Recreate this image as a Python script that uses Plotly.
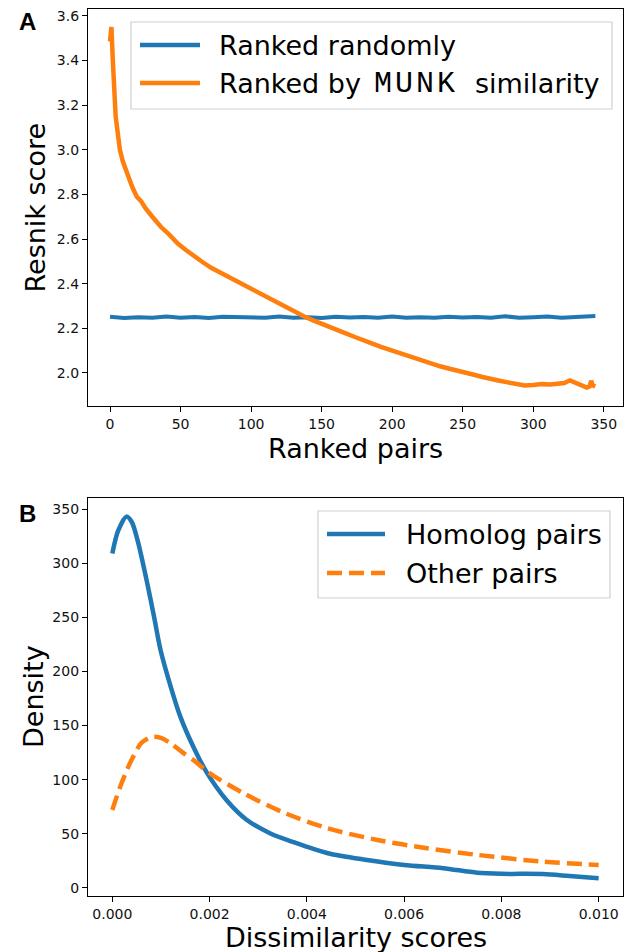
import plotly.graph_objects as go

# ---------------- Data ----------------
# Panel A
munk_rank = [0, 1, 2, 3, 4, 5, 7, 9, 11, 13, 16, 19, 22, 25, 30, 36, 42, 48, 54, 60,
             66, 72, 78, 84, 90, 96, 102, 108, 114, 120, 126, 132, 138, 144, 150, 156,
             162, 168, 174, 180, 186, 192, 198, 204, 210, 216, 222, 228, 234, 240, 246,
             252, 258, 264, 270, 276, 282, 288, 294, 300, 306, 312, 318, 322, 326, 330,
             334, 338, 340, 341, 342, 344]
munk_score = [3.485, 3.55, 3.40, 3.25, 3.15, 3.10, 3.00, 2.95, 2.91, 2.88, 2.83, 2.79,
              2.77, 2.74, 2.70, 2.655, 2.62, 2.58, 2.55, 2.52, 2.495, 2.47, 2.45, 2.43,
              2.41, 2.39, 2.37, 2.35, 2.335, 2.31, 2.29, 2.27, 2.252, 2.236, 2.222, 2.206,
              2.19, 2.175, 2.16, 2.148, 2.132, 2.117, 2.104, 2.09, 2.078, 2.066, 2.052,
              2.04, 2.03, 2.02, 2.012, 2.002, 1.992, 1.982, 1.972, 1.965, 1.958, 1.95,
              1.944, 1.946, 1.95, 1.948, 1.95, 1.955, 1.967, 1.958, 1.945, 1.935, 1.94,
              1.965, 1.945, 1.94]

random_rank = [0, 10, 20, 30, 40, 50, 60, 70, 80, 90, 100, 110, 120, 130, 140, 150, 160,
               170, 180, 190, 200, 210, 220, 230, 240, 250, 260, 270, 280, 290, 300, 310,
               320, 330, 340, 344]
random_score = [2.252, 2.246, 2.250, 2.247, 2.253, 2.248, 2.251, 2.246, 2.252, 2.249,
                2.250, 2.247, 2.253, 2.248, 2.250, 2.246, 2.252, 2.249, 2.251, 2.247,
                2.253, 2.248, 2.250, 2.247, 2.252, 2.249, 2.251, 2.248, 2.254, 2.247,
                2.250, 2.253, 2.248, 2.250, 2.252, 2.255]

# Panel B
homolog_x = [0.0, 0.00012, 0.00029, 0.00040, 0.00052, 0.00072, 0.00086, 0.00099, 0.0012,
             0.0014, 0.00167, 0.00195, 0.00235, 0.00276, 0.00324, 0.00371, 0.00443,
             0.0052, 0.0060, 0.0068, 0.0075, 0.0080, 0.00885, 0.0094, 0.0100]
homolog_y = [309, 330, 343, 338, 321, 281, 250, 220, 186, 158, 130, 106, 81, 63, 50.5,
             42.5, 32, 26, 21.2, 18.2, 14, 13, 12.8, 11, 9]

other_x = [0.0, 0.00015, 0.0003, 0.00045, 0.00059, 0.00075, 0.00086, 0.001, 0.0012,
           0.00145, 0.00167, 0.002, 0.0027, 0.0035, 0.00443, 0.00545, 0.00647, 0.0075,
           0.00885, 0.0100]
other_y = [72, 92, 109, 123, 133.6, 138.5, 139.7, 138.5, 133.6, 125, 118, 106, 87.4,
           70, 55, 44.3, 36.6, 30.5, 24.2, 21.2]

legend_a = ["Ranked randomly", ["Ranked by", "MUNK", "similarity"]]
legend_b = ["Homolog pairs", "Other pairs"]

BLUE = "#1f77b4"
ORANGE = "#ff7f0e"
W, H = 632, 952
L, R, T, B = 88, 623, 9, 896  # plot area in pixels


def px(x):
    return (x - L) / (R - L)


def py(y):
    return (B - y) / (B - T)


fig = go.Figure()
fig.add_trace(go.Scatter(x=random_rank, y=random_score, mode="lines",
                         line=dict(color=BLUE, width=4), xaxis="x", yaxis="y",
                         showlegend=False))
fig.add_trace(go.Scatter(x=munk_rank, y=munk_score, mode="lines",
                         line=dict(color=ORANGE, width=4.5), xaxis="x", yaxis="y",
                         showlegend=False))
fig.add_trace(go.Scatter(x=homolog_x, y=homolog_y, mode="lines",
                         line=dict(color=BLUE, width=4.5, shape="spline", smoothing=0.8),
                         xaxis="x2", yaxis="y2", showlegend=False))
fig.add_trace(go.Scatter(x=other_x, y=other_y, mode="lines",
                         line=dict(color=ORANGE, width=4.5, dash="15px,7px",
                                   shape="spline", smoothing=0.8),
                         xaxis="x2", yaxis="y2", showlegend=False))

axis_common = dict(showline=True, mirror=True, linecolor="black", linewidth=1.3,
                   ticks="outside", ticklen=5, tickwidth=1.2, tickcolor="black",
                   showgrid=False, zeroline=False,
                   tickfont=dict(family="DejaVu Sans", size=14, color="#111"))

fig.update_layout(
    width=W, height=H,
    margin=dict(l=L, r=W - R, t=T, b=H - B, pad=0),
    plot_bgcolor="white", paper_bgcolor="white",
    xaxis=dict(domain=[0, 1], anchor="y", range=[-15.6, 363.6],
               tickvals=[0, 50, 100, 150, 200, 250, 300, 350], **axis_common),
    yaxis=dict(domain=[py(406), 1], anchor="x", range=[1.852, 3.631],
               tickvals=[2.0, 2.2, 2.4, 2.6, 2.8, 3.0, 3.2, 3.4, 3.6],
               tickformat=".1f", **axis_common),
    xaxis2=dict(domain=[0, 1], anchor="y2", range=[-0.0005, 0.0105],
                tickvals=[0, 0.002, 0.004, 0.006, 0.008, 0.010],
                tickformat=".3f", **axis_common),
    yaxis2=dict(domain=[0, py(498)], anchor="x2", range=[-7.5, 360.2],
                tickvals=[0, 50, 100, 150, 200, 250, 300, 350], **axis_common),
)

title_font = dict(family="DejaVu Sans", size=27, color="black")
ann = []
ann.append(dict(text="Ranked pairs", x=0.5, y=py(448), xref="paper", yref="paper",
                showarrow=False, font=title_font, xanchor="center", yanchor="middle"))
ann.append(dict(text="Resnik score", x=px(35), y=py(207.5), xref="paper", yref="paper",
                showarrow=False, font=title_font, textangle=-90,
                xanchor="center", yanchor="middle"))
ann.append(dict(text="Dissimilarity scores", x=0.5, y=py(937), xref="paper", yref="paper",
                showarrow=False, font=title_font, xanchor="center", yanchor="middle"))
ann.append(dict(text="Density", x=px(33), y=py(697), xref="paper", yref="paper",
                showarrow=False, font=title_font, textangle=-90,
                xanchor="center", yanchor="middle"))
letter_font = dict(family="Liberation Sans", size=24, color="black")
ann.append(dict(text="<b>A</b>", x=px(27), y=py(21), xref="paper", yref="paper",
                showarrow=False, font=letter_font, xanchor="center", yanchor="middle"))
ann.append(dict(text="<b>B</b>", x=px(27), y=py(513), xref="paper", yref="paper",
                showarrow=False, font=letter_font, xanchor="center", yanchor="middle"))

leg_font = dict(family="DejaVu Sans", size=27, color="black")
mono_font = dict(family="Liberation Mono", size=30, color="black")
shapes = []
# Legend A
shapes.append(dict(type="rect", xref="paper", yref="paper", x0=px(131), x1=px(612),
                   y0=py(109), y1=py(22), line=dict(color="#d0d0d0", width=1.2),
                   fillcolor="rgba(255,255,255,0.85)", layer="above"))
for i, col in enumerate([BLUE, ORANGE]):
    yy = 45 + i * 38
    shapes.append(dict(type="line", xref="paper", yref="paper", x0=px(140), x1=px(200),
                       y0=py(yy), y1=py(yy), line=dict(color=col, width=4.5), layer="above"))
ann.append(dict(text=legend_a[0], x=px(217), y=py(45), xref="paper", yref="paper",
                showarrow=False, font=leg_font, xanchor="left", yanchor="middle"))
ann.append(dict(text=legend_a[1][0], x=px(217), y=py(83), xref="paper", yref="paper",
                showarrow=False, font=leg_font, xanchor="left", yanchor="middle"))
ann.append(dict(text="<span style=\"letter-spacing:3px\">" + legend_a[1][1] + "</span>",
                x=px(416), y=py(84), xref="paper", yref="paper",
                showarrow=False, font=mono_font, xanchor="center", yanchor="middle"))
ann.append(dict(text=legend_a[1][2], x=px(473), y=py(83), xref="paper", yref="paper",
                showarrow=False, font=leg_font, xanchor="left", yanchor="middle"))
# Legend B
shapes.append(dict(type="rect", xref="paper", yref="paper", x0=px(318), x1=px(610),
                   y0=py(598), y1=py(511), line=dict(color="#d0d0d0", width=1.2),
                   fillcolor="rgba(255,255,255,0.85)", layer="above"))
for i, (lab, col, dash) in enumerate(zip(legend_b, [BLUE, ORANGE], ["solid", "15px,7px"])):
    yy = 534 + i * 39
    shapes.append(dict(type="line", xref="paper", yref="paper", x0=px(327), x1=px(385),
                       y0=py(yy), y1=py(yy), line=dict(color=col, width=4.5, dash=dash),
                       layer="above"))
    ann.append(dict(text=lab, x=px(404), y=py(yy), xref="paper", yref="paper",
                    showarrow=False, font=leg_font, xanchor="left", yanchor="middle"))

fig.update_layout(annotations=ann, shapes=shapes)
fig.write_html("out.html", config={"displayModeBar": False},
               post_script="document.body.style.margin='0';document.body.style.overflow='hidden';")
